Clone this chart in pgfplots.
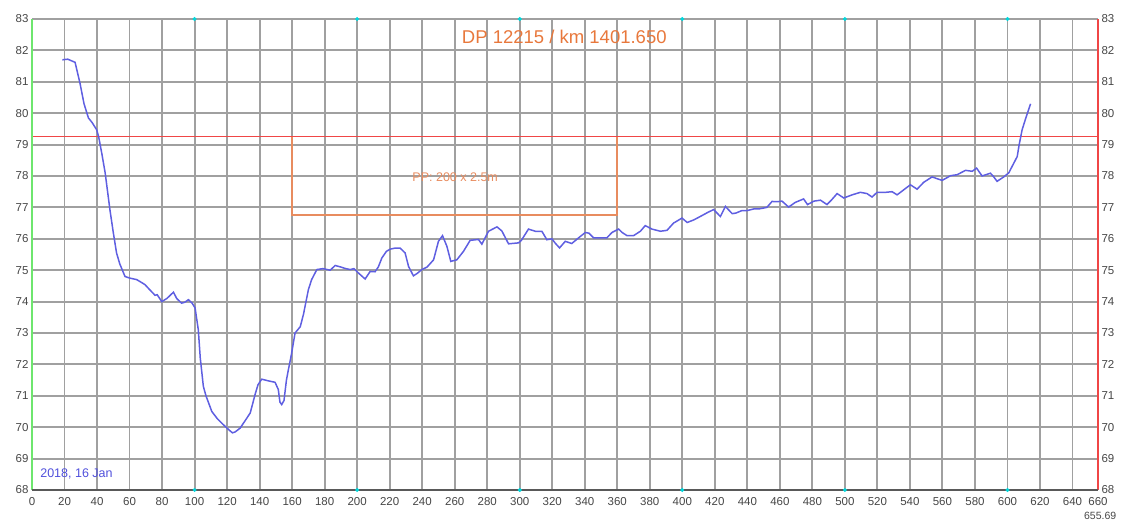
\documentclass[border=0pt]{standalone}
\usepackage{pgfplots}
\pgfplotsset{compat=1.18}
\usepackage{fontspec}
\setmainfont{Liberation Sans}
\definecolor{curve}{RGB}{95,95,225}
\definecolor{gridc}{RGB}{160,160,160}
\definecolor{redl}{RGB}{240,70,70}
\definecolor{orangel}{RGB}{232,140,95}
\definecolor{titlec}{RGB}{232,120,60}
\definecolor{greenl}{RGB}{110,230,110}
\definecolor{cyand}{RGB}{0,215,220}
\definecolor{tickc}{RGB}{70,70,70}
\definecolor{bluet}{RGB}{80,80,220}
\pgfplotstableread{
x y
18.7 81.7
22 81.72
26.5 81.62
29.5 80.96
32 80.3
34.7 79.85
37 79.7
39.8 79.47
41 79.25
43 78.7
45 78.1
48 76.9
50 76.2
52 75.55
54 75.2
57.2 74.8
60 74.75
64.4 74.7
67 74.62
69.5 74.54
72 74.4
75.7 74.2
77 74.22
79.8 74.0
83 74.1
87 74.3
89 74.1
92 73.95
94 73.98
96.2 74.06
98.5 73.95
100.3 73.8
102.3 73.1
103.5 72.2
105.4 71.3
107 71.0
110.6 70.5
114 70.27
117.7 70.08
121 69.92
123.3 69.82
125 69.85
128 69.97
131 70.2
134.2 70.45
136 70.8
137.2 71.04
139 71.35
141.3 71.53
145 71.48
149.5 71.43
151.5 71.2
152.5 70.8
153.6 70.72
155 70.85
156.5 71.5
157.7 71.83
159.5 72.3
161.8 73.0
165 73.2
167 73.6
170 74.38
172 74.7
175.2 75.02
179 75.05
183.4 75.0
186.5 75.15
190 75.1
193 75.05
195.7 75.02
198 75.05
201 74.9
204.9 74.72
208 74.96
211 74.95
213 75.1
215.2 75.39
218 75.6
220.3 75.67
223 75.7
226.5 75.7
229.5 75.55
231.6 75.12
234.6 74.82
237 74.9
239.8 75.02
243 75.1
247 75.33
250 75.92
252.5 76.1
255.2 75.76
257.6 75.28
261.3 75.33
265.4 75.6
269.5 75.95
274.6 75.98
276.7 75.83
280.8 76.24
286 76.38
289 76.25
293.1 75.84
299.3 75.87
301 75.95
305.4 76.31
309.5 76.24
313.6 76.24
316.7 75.97
319.8 76.0
322 75.85
324.5 75.71
328 75.92
332 75.85
336.2 76.03
340.3 76.2
342.5 76.18
345.4 76.03
349.5 76.03
353.6 76.03
356.7 76.2
360.8 76.31
363 76.2
366 76.1
370 76.1
374.2 76.24
377.2 76.42
381.3 76.31
386.5 76.24
390.6 76.27
394.6 76.5
399.8 76.66
403 76.52
407 76.6
412.1 76.74
416 76.85
419.3 76.93
423.4 76.71
426.5 77.03
430.7 76.8
433 76.82
436.7 76.9
440 76.9
443.9 76.95
447 76.95
450 76.98
452 77.0
455.2 77.19
458.3 77.18
461.3 77.2
465.4 77.01
469.5 77.16
474.6 77.27
477 77.09
481 77.2
485 77.23
489 77.09
492 77.25
495.2 77.44
499.3 77.3
504.5 77.4
509.5 77.48
513.6 77.44
516.7 77.33
519.8 77.48
525 77.48
529 77.5
532.1 77.4
536.2 77.56
540.3 77.72
544.4 77.58
548.5 77.8
553.6 77.97
559.8 77.86
565 78.01
569 78.04
574.2 78.18
578.3 78.15
581 78.25
584.4 78.0
589.5 78.09
591.6 77.97
593.6 77.83
597.7 77.97
600.8 78.1
603.9 78.41
606 78.62
607.2 79.0
609 79.47
611 79.8
614.2 80.3
}\profile
\begin{document}
\begin{tikzpicture}
\begin{axis}[
  scale only axis, width=1066pt, height=471pt,
  xmin=0, xmax=655.69, ymin=68, ymax=83,
  xtick={0,20,...,640}, ytick={68,69,...,83},
  extra x ticks={655.69}, extra x tick labels={660},
  grid=major, major grid style={gridc, line width=1.9pt},
  major tick length=0pt,
  axis line style={draw=none},
  tick label style={font=\fontsize{11.5}{13}\selectfont, text=tickc},
  xticklabel style={yshift=-4pt},
  /pgf/number format/assume math mode=true,
  clip=false,
]
\addplot[redl, line width=1.4pt] coordinates {(0,79.25) (655.69,79.25)};
\addplot[orangel, line width=1.6pt] coordinates {(160,79.25) (160,76.75) (360,76.75) (360,79.25)};
\addplot[curve, line width=1.5pt] table[x=x, y=y] {\profile};
\addplot[only marks, mark=*, mark size=1.8pt, cyand, draw=none] coordinates {
(100,83) (200,83) (300,83) (400,83) (500,83) (600,83)
(100,68) (200,68) (300,68) (400,68) (500,68) (600,68)};
\draw[greenl, line width=1.6pt] (rel axis cs:0,0) -- (rel axis cs:0,1);
\draw[redl, line width=1.6pt] (rel axis cs:1,0) -- (rel axis cs:1,1);
\draw[black!65, line width=1.6pt] (rel axis cs:0,0) -- (rel axis cs:1,0);
\node[text=titlec, font=\fontsize{18.5}{22}\selectfont] at (axis cs:327.4,82.44) {DP 12215 / km 1401.650};
\node[text=orangel, font=\fontsize{12.5}{15}\selectfont] at (axis cs:260.3,77.95) {PP: 200 x 2.5m};
\node[anchor=west, inner sep=0pt, text=bluet, font=\fontsize{12.5}{15}\selectfont] at (axis cs:5,68.5) {2018, 16 Jan};
\node[text=tickc, font=\fontsize{10.5}{12}\selectfont] at ([yshift=-26pt]axis cs:657,68) {655.69};
\coordinate (bl) at (rel axis cs:0,0);
\coordinate (tr) at (rel axis cs:1,1);
\end{axis}
\begin{axis}[
  scale only axis, width=1066pt, height=471pt,
  xmin=0, xmax=655.69, ymin=68, ymax=83,
  hide x axis, yticklabel pos=right, ytick={68,69,...,83},
  major tick length=0pt, axis line style={draw=none},
  tick label style={font=\fontsize{11.5}{13}\selectfont, text=tickc},
  /pgf/number format/assume math mode=true,
]
\addplot[draw=none] coordinates {(0,68)};
\end{axis}
\pgfresetboundingbox
\path[use as bounding box] ([shift={(-32pt,-30pt)}]bl) rectangle ([shift={(24pt,19pt)}]tr);
\end{tikzpicture}
\end{document}
